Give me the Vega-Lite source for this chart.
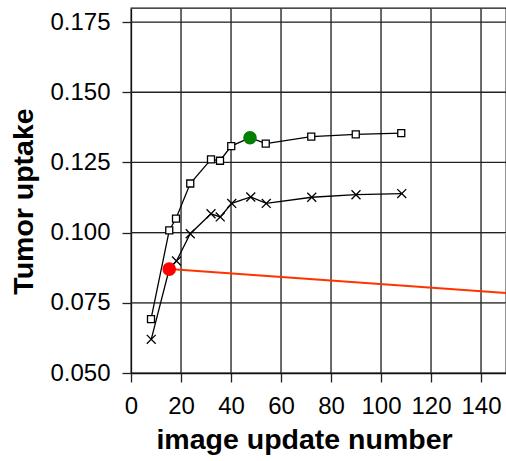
{
  "$schema": "https://vega.github.io/schema/vega-lite/v6.json",
  "width": 375,
  "height": 365,
  "autosize": "none",
  "padding": {"left": 131, "top": 8, "right": 0, "bottom": 88},
  "background": "white",
  "config": {
    "font": "Liberation Sans",
    "view": {"stroke": "#111", "strokeWidth": 1.3},
    "axis": {
      "tickColor": "#222",
      "tickSize": 9,
      "tickWidth": 1.3,
      "domainColor": "#111",
      "domainWidth": 1.3,
      "labelColor": "black",
      "titleColor": "black",
      "labelFontSize": 24,
      "labelFlush": false,
      "titleFontSize": 28.5,
      "titleFontWeight": "bold"
    }
  },
  "datasets": {
    "xgrid": [{"x": 20}, {"x": 40}, {"x": 60}, {"x": 80}, {"x": 100}, {"x": 120}, {"x": 140}],
    "ygrid": [{"y": 0.075}, {"y": 0.1}, {"y": 0.125}, {"y": 0.15}, {"y": 0.175}],
    "series": [
      {"series": "squares", "x": 8, "y": 0.0692},
      {"series": "squares", "x": 15.3, "y": 0.1008},
      {"series": "squares", "x": 18, "y": 0.105},
      {"series": "squares", "x": 23.7, "y": 0.1175},
      {"series": "squares", "x": 32, "y": 0.1261},
      {"series": "squares", "x": 35.6, "y": 0.1256},
      {"series": "squares", "x": 40.1, "y": 0.1308},
      {"series": "squares", "x": 47.6, "y": 0.1338},
      {"series": "squares", "x": 53.9, "y": 0.1317},
      {"series": "squares", "x": 72.1, "y": 0.1342},
      {"series": "squares", "x": 89.9, "y": 0.135},
      {"series": "squares", "x": 108.1, "y": 0.1354},
      {"series": "crosses", "x": 8.1, "y": 0.062},
      {"series": "crosses", "x": 15.3, "y": 0.087},
      {"series": "crosses", "x": 18.2, "y": 0.0899},
      {"series": "crosses", "x": 23.7, "y": 0.0996},
      {"series": "crosses", "x": 32, "y": 0.1067},
      {"series": "crosses", "x": 35.7, "y": 0.1056},
      {"series": "crosses", "x": 40.3, "y": 0.1104},
      {"series": "crosses", "x": 47.9, "y": 0.1127},
      {"series": "crosses", "x": 54.1, "y": 0.1104},
      {"series": "crosses", "x": 72.3, "y": 0.1126},
      {"series": "crosses", "x": 90, "y": 0.1135},
      {"series": "crosses", "x": 108.3, "y": 0.1139}
    ],
    "redline": [
      {"x": 15.3, "y": 0.087},
      {"x": 150, "y": 0.0785}
    ],
    "dots": [
      {"name": "red", "x": 15.3, "y": 0.087},
      {"name": "green", "x": 47.6, "y": 0.1338}
    ]
  },
  "layer": [
    {
      "data": {"name": "xgrid"},
      "mark": {"type": "rule", "color": "#222", "strokeWidth": 1.3},
      "encoding": {
        "x": {
          "field": "x", "type": "quantitative",
          "scale": {"domain": [0, 150], "nice": false, "zero": false},
          "axis": {
            "values": [0, 20, 40, 60, 80, 100, 120, 140],
            "labelPadding": 12,
            "title": "image update number",
            "titleX": 173,
            "titleY": 75,
            "titleBaseline": "alphabetic",
            "titleAlign": "center"
          }
        }
      }
    },
    {
      "data": {"name": "ygrid"},
      "mark": {"type": "rule", "color": "#222", "strokeWidth": 1.3},
      "encoding": {
        "y": {
          "field": "y", "type": "quantitative",
          "scale": {"domain": [0.05, 0.18], "nice": false, "zero": false},
          "axis": {
            "values": [0.05, 0.075, 0.1, 0.125, 0.15, 0.175],
            "format": ".3f",
            "labelPadding": 12,
            "title": "Tumor uptake",
            "titleAngle": -90,
            "titleX": -99,
            "titleY": 193,
            "titleBaseline": "alphabetic",
            "titleAlign": "center"
          }
        }
      }
    },
    {
      "data": {"name": "series"},
      "mark": {"type": "line", "color": "black", "strokeWidth": 1.3, "clip": true},
      "encoding": {
        "x": {"field": "x", "type": "quantitative"},
        "y": {"field": "y", "type": "quantitative"},
        "detail": {"field": "series"}
      }
    },
    {
      "data": {"name": "series"},
      "transform": [{"filter": "datum.series === 'squares'"}],
      "mark": {"type": "point", "shape": "square", "filled": true, "fill": "white", "stroke": "black", "strokeWidth": 1.3, "size": 49, "opacity": 1},
      "encoding": {
        "x": {"field": "x", "type": "quantitative"},
        "y": {"field": "y", "type": "quantitative"}
      }
    },
    {
      "data": {"name": "series"},
      "transform": [{"filter": "datum.series === 'crosses'"}],
      "mark": {"type": "point", "shape": "M-1,-1L1,1M-1,1L1,-1", "stroke": "black", "strokeWidth": 1.3, "size": 80, "opacity": 1},
      "encoding": {
        "x": {"field": "x", "type": "quantitative"},
        "y": {"field": "y", "type": "quantitative"}
      }
    },
    {
      "data": {"name": "redline"},
      "mark": {"type": "line", "color": "#ff3300", "strokeWidth": 2, "clip": true},
      "encoding": {
        "x": {"field": "x", "type": "quantitative"},
        "y": {"field": "y", "type": "quantitative"}
      }
    },
    {
      "data": {"name": "dots"},
      "mark": {"type": "circle", "size": 185, "opacity": 1},
      "encoding": {
        "x": {"field": "x", "type": "quantitative"},
        "y": {"field": "y", "type": "quantitative"},
        "color": {
          "field": "name", "type": "nominal",
          "scale": {"domain": ["red", "green"], "range": ["#ff0000", "#008000"]},
          "legend": null
        }
      }
    }
  ]
}
